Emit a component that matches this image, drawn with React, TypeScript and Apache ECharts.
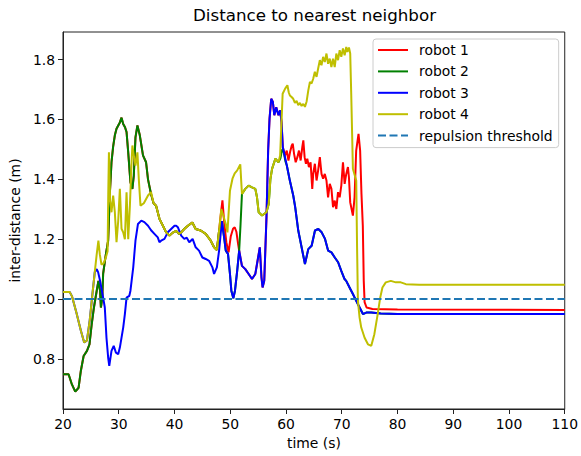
import React, { useEffect, useRef } from "react";
import * as echarts from "echarts";

type Pt = [number, number];

const seriesNames = ["robot 1", "robot 2", "robot 3", "robot 4", "repulsion threshold"];
const yTickValues = [0.8, 1.0, 1.2, 1.4, 1.6, 1.8];
const xRange = [20, 110];
const yRange = [0.633, 1.892];

// robot 4 (drawn on top of the others)
const robot4: Pt[] = [
  [20.0, 1.024], [21.2, 1.024], [21.6, 1.01], [22.4, 0.955], [23.2, 0.895], [23.8, 0.855], [24.3, 0.862],
  [24.8, 0.93], [25.3, 1.02], [25.7, 1.09], [26.05, 1.15], [26.35, 1.195], [26.6, 1.15], [26.9, 1.115],
  [27.3, 1.12], [27.7, 1.14], [28.0, 1.16], [28.12, 1.35], [28.24, 1.49], [28.45, 1.33], [28.7, 1.29],
  [29.0, 1.346], [29.3, 1.29], [29.6, 1.19], [29.9, 1.26], [30.2, 1.368], [30.5, 1.235], [30.8, 1.223],
  [31.1, 1.2], [31.4, 1.357], [31.7, 1.2], [32.0, 1.312], [32.3, 1.457], [32.45, 1.513], [32.7, 1.48],
  [33.0, 1.446], [33.35, 1.49], [33.6, 1.4], [33.9, 1.312], [34.5, 1.32], [35.25, 1.346], [35.8, 1.357],
  [36.25, 1.32], [36.7, 1.312], [37.3, 1.268], [37.9, 1.246], [38.5, 1.223], [39.1, 1.212], [39.7, 1.222],
  [40.3, 1.228], [40.8, 1.218], [41.2, 1.223], [41.8, 1.235], [42.4, 1.245], [43.2, 1.256], [43.8, 1.234],
  [44.7, 1.229], [45.6, 1.218], [46.5, 1.195], [47.1, 1.173], [47.6, 1.164], [48.0, 1.229], [48.4, 1.301],
  [48.75, 1.279], [49.2, 1.251], [49.5, 1.223], [49.95, 1.362], [50.4, 1.402], [50.8, 1.42], [51.25, 1.43],
  [51.8, 1.45], [52.1, 1.351], [52.7, 1.368], [53.3, 1.379], [53.9, 1.373], [54.5, 1.368], [54.8, 1.34],
  [55.1, 1.29], [55.7, 1.279], [56.5, 1.29], [56.9, 1.318], [57.2, 1.4], [57.5, 1.435], [58.1, 1.469],
  [58.65, 1.457], [58.95, 1.48], [59.4, 1.686], [59.85, 1.703], [60.25, 1.714], [60.5, 1.69], [60.7, 1.68],
  [61.0, 1.675], [61.3, 1.669], [61.6, 1.655], [61.9, 1.662], [62.2, 1.648], [62.5, 1.655], [62.8, 1.645],
  [63.1, 1.652], [63.4, 1.642], [63.7, 1.66], [64.0, 1.697], [64.29, 1.725], [64.59, 1.72], [64.88, 1.736],
  [65.18, 1.759], [65.48, 1.742], [65.77, 1.77], [66.07, 1.798], [66.37, 1.781], [66.66, 1.809], [66.96, 1.792],
  [67.26, 1.82], [67.55, 1.786], [67.85, 1.803], [68.14, 1.775], [68.44, 1.803], [68.74, 1.775], [69.03, 1.82],
  [69.33, 1.798], [69.63, 1.831], [69.92, 1.809], [70.22, 1.837], [70.52, 1.814], [70.81, 1.842], [70.99, 1.826],
  [71.29, 1.84], [71.52, 1.82], [71.7, 1.686], [72.0, 1.435], [72.6, 1.396], [72.75, 1.173], [72.9, 0.994],
  [73.2, 0.938], [73.5, 0.905], [74.1, 0.871], [74.7, 0.849], [75.3, 0.844], [75.85, 0.883], [76.45, 0.95],
  [76.9, 1.005], [77.3, 1.039], [77.9, 1.056], [78.8, 1.061], [79.7, 1.056], [80.6, 1.056], [81.5, 1.05],
  [83.9, 1.048], [110.0, 1.048],
];

// robot 3 after it leaves robot 4's curve
const robot3Own: Pt[] = [
  [26.05, 1.1], [26.3, 1.09], [26.65, 1.061], [27.2, 1.005], [27.5, 0.972], [27.8, 0.871], [28.1, 0.805],
  [28.3, 0.777], [28.7, 0.827], [29.1, 0.844], [29.5, 0.821], [29.9, 0.816], [30.2, 0.838], [30.8, 0.905],
  [31.1, 0.95], [31.4, 1.005], [31.9, 1.011], [32.1, 1.028], [32.6, 1.106], [33.0, 1.195], [33.45, 1.251],
  [34.05, 1.262], [34.6, 1.257], [35.25, 1.245], [35.8, 1.23], [36.4, 1.218], [37.0, 1.206], [37.3, 1.19],
  [37.6, 1.195], [38.2, 1.201], [38.8, 1.223], [39.4, 1.234], [40.0, 1.245], [40.3, 1.245], [40.6, 1.24],
  [41.2, 1.212], [41.75, 1.201], [42.2, 1.205], [42.65, 1.19], [43.25, 1.201], [43.8, 1.173], [44.4, 1.162],
  [45.0, 1.139], [45.6, 1.134], [46.2, 1.128], [46.8, 1.106], [47.1, 1.084], [47.6, 1.106], [48.0, 1.162],
  [48.5, 1.26], [48.9, 1.206], [49.2, 1.162], [49.6, 1.151], [49.95, 1.084], [50.2, 1.028], [50.55, 1.003],
  [50.85, 1.028], [51.25, 1.095], [51.6, 1.162], [52.1, 1.111], [52.7, 1.1], [53.3, 1.084], [53.9, 1.067],
  [54.5, 1.084], [54.9, 1.128], [55.3, 1.173], [55.6, 1.073], [55.8, 1.039], [56.1, 1.061], [56.5, 1.273],
  [56.8, 1.496], [57.05, 1.603], [57.35, 1.669], [57.65, 1.658], [57.9, 1.614], [58.25, 1.641], [58.65, 1.614],
  [58.95, 1.63], [59.2, 1.591], [59.43, 1.507], [60.15, 1.446], [60.7, 1.395], [61.3, 1.346], [61.65, 1.307],
  [62.2, 1.229], [62.8, 1.173], [63.4, 1.117], [64.0, 1.167], [64.6, 1.178], [65.2, 1.229], [65.8, 1.234],
  [66.4, 1.223], [67.0, 1.201], [67.55, 1.162], [68.15, 1.156], [68.75, 1.139], [69.35, 1.123], [69.9, 1.095],
  [70.5, 1.067], [70.8, 1.061], [71.4, 1.039], [72.0, 1.017], [72.6, 0.994], [73.2, 0.972], [73.8, 0.95],
  [74.4, 0.955], [75.3, 0.955], [77.0, 0.952], [80.0, 0.95], [110.0, 0.95],
];

// robots 1 and 2 share this stretch (each other's nearest neighbour)
const robot12Early: Pt[] = [
  [20.0, 0.749], [21.0, 0.749], [21.6, 0.715], [22.2, 0.691], [22.8, 0.704], [23.2, 0.76], [23.7, 0.81],
  [24.3, 0.827], [24.75, 0.849], [25.15, 0.916], [25.55, 0.972], [26.05, 1.028], [26.35, 1.061], [26.65, 1.028],
  [26.8, 0.972], [27.05, 1.005], [27.2, 1.084], [27.7, 1.151], [28.1, 1.195], [28.4, 1.35], [28.7, 1.457],
  [29.0, 1.51], [29.3, 1.547], [29.6, 1.569], [30.2, 1.59], [30.5, 1.606], [30.8, 1.585], [31.1, 1.575],
  [31.4, 1.558], [31.7, 1.49], [32.1, 1.39], [32.45, 1.368], [32.7, 1.412], [33.0, 1.54], [33.35, 1.58],
  [33.75, 1.55], [34.35, 1.48], [34.9, 1.457], [35.25, 1.4], [35.8, 1.35], [36.25, 1.32],
];
const robot2Jump: Pt[] = [[51.85, 1.25]];
const robot2Split: Pt[] = [[59.0, 1.47], [59.3, 1.5], [59.6, 1.49], [59.9, 1.46]];

const robot1Own1: Pt[] = [
  [48.35, 1.29], [48.6, 1.33], [48.9, 1.26], [49.3, 1.19], [49.7, 1.156], [50.1, 1.21], [50.5, 1.235],
  [50.8, 1.24], [51.1, 1.225], [51.4, 1.185],
];
const robot1Own2: Pt[] = [
  [59.84, 1.48], [60.14, 1.496], [60.44, 1.463], [60.73, 1.491], [61.03, 1.513], [61.21, 1.519], [61.45, 1.485],
  [61.74, 1.457], [62.04, 1.474], [62.33, 1.496], [62.63, 1.463], [62.93, 1.508], [63.11, 1.53], [63.34, 1.474],
  [63.58, 1.452], [63.82, 1.469], [64.11, 1.441], [64.41, 1.457], [64.71, 1.368], [64.88, 1.418], [65.18, 1.452],
  [65.48, 1.396], [65.77, 1.43], [66.07, 1.474], [66.37, 1.418], [66.66, 1.402], [66.96, 1.418], [67.26, 1.396],
  [67.55, 1.34], [67.85, 1.385], [68.15, 1.368], [68.44, 1.307], [68.74, 1.329], [69.03, 1.301], [69.33, 1.357],
  [69.63, 1.34], [69.92, 1.379], [70.22, 1.457], [70.52, 1.385], [70.81, 1.418], [71.11, 1.441], [71.29, 1.407],
  [71.52, 1.323], [71.82, 1.296], [72.0, 1.279], [72.3, 1.34], [72.59, 1.496], [73.01, 1.552], [73.3, 1.496],
  [73.54, 1.351], [73.78, 1.245], [73.95, 1.06], [74.1, 0.99], [74.45, 0.972], [75.5, 0.967], [80.0, 0.965],
  [110.0, 0.964],
];

const thresholdLine: Pt[] = [[20, 1.0], [110, 1.0]];

const between = (arr: Pt[], a: number, b: number): Pt[] =>
  arr.filter((p) => p[0] >= a - 1e-9 && p[0] <= b + 1e-9);

const robot3: Pt[] = [...between(robot4, 20, 25.7), ...robot3Own];
const robot2: Pt[] = [
  ...robot12Early,
  ...between(robot4, 36.7, 48.0),
  ...between(robot3, 48.5, 51.6),
  ...robot2Jump,
  ...between(robot4, 52.1, 58.65),
  ...robot2Split,
  ...between(robot3, 60.15, 110),
];
const robot1: Pt[] = [
  ...robot12Early,
  ...between(robot4, 36.7, 48.0),
  ...robot1Own1,
  ...between(robot3, 51.6, 59.43),
  ...robot1Own2,
];

const FONT = "DejaVu Sans";
const colors = ["#ff0000", "#008000", "#0000ff", "#bfbf00", "#1f77b4"];

export default function App() {
  const ref = useRef<HTMLDivElement>(null);
  useEffect(() => {
    document.body.style.margin = "0";
    const chart = echarts.init(ref.current!, null, { renderer: "svg" });
    const datasets = [robot1, robot2, robot3, robot4, thresholdLine];
    chart.setOption({
      animation: false,
      backgroundColor: "#ffffff",
      textStyle: { fontFamily: FONT },
      title: {
        text: "Distance to nearest neighbor",
        left: 193,
        top: 6,
        padding: 0,
        textStyle: { fontFamily: FONT, fontSize: 16.7, fontWeight: "normal", color: "#000" },
      },
      grid: {
        left: 61,
        right: 14,
        top: 32,
        bottom: 47,
        show: true,
        borderColor: "#222",
        borderWidth: 1,
        backgroundColor: "transparent",
      },
      legend: {
        orient: "vertical",
        left: 373,
        top: 39,
        padding: [4, 6, 5, 4],
        itemGap: 7.4,
        itemWidth: 30,
        itemHeight: 14,
        backgroundColor: "rgba(255,255,255,0.8)",
        borderColor: "#cccccc",
        borderWidth: 1,
        borderRadius: 3,
        itemStyle: { opacity: 0 },
        textStyle: { fontFamily: FONT, fontSize: 13.9, color: "#000", lineHeight: 14, padding: [0, 0, 0, 6] },
        data: seriesNames,
      },
      xAxis: {
        type: "value",
        min: xRange[0],
        max: xRange[1],
        interval: 10,
        name: "time (s)",
        nameLocation: "middle",
        nameGap: 25,
        nameTextStyle: { fontFamily: FONT, fontSize: 13.9, color: "#000" },
        axisLine: { show: true, lineStyle: { color: "#222", width: 1 } },
        axisTick: { show: true, inside: false, length: 5, lineStyle: { color: "#222", width: 1 } },
        axisLabel: { fontFamily: FONT, fontSize: 13.9, color: "#000", margin: 8 },
        splitLine: { show: false },
      },
      yAxis: {
        type: "value",
        min: yRange[0],
        max: yRange[1],
        name: "inter-distance (m)",
        nameLocation: "middle",
        nameGap: 40,
        nameTextStyle: { fontFamily: FONT, fontSize: 13.9, color: "#000" },
        axisLine: { show: true, lineStyle: { color: "#222", width: 1 } },
        axisTick: {
          show: true,
          inside: false,
          length: 5,
          customValues: yTickValues,
          lineStyle: { color: "#222", width: 1 },
        },
        axisLabel: {
          fontFamily: FONT,
          fontSize: 13.9,
          color: "#000",
          margin: 8,
          customValues: yTickValues,
          formatter: (v: number) => v.toFixed(1),
        },
        splitLine: { show: false },
      },
      series: datasets.map((d, i) => ({
        name: seriesNames[i],
        type: "line",
        data: d,
        symbol: "none",
        showSymbol: false,
        clip: true,
        color: colors[i],
        itemStyle: { color: colors[i] },
        lineStyle: { color: colors[i], width: 2, type: i === 4 ? [8, 3.5] : "solid" },
      })),
    });
    return () => chart.dispose();
  }, []);
  return <div ref={ref} style={{ width: 581, height: 456 }} />;
}
